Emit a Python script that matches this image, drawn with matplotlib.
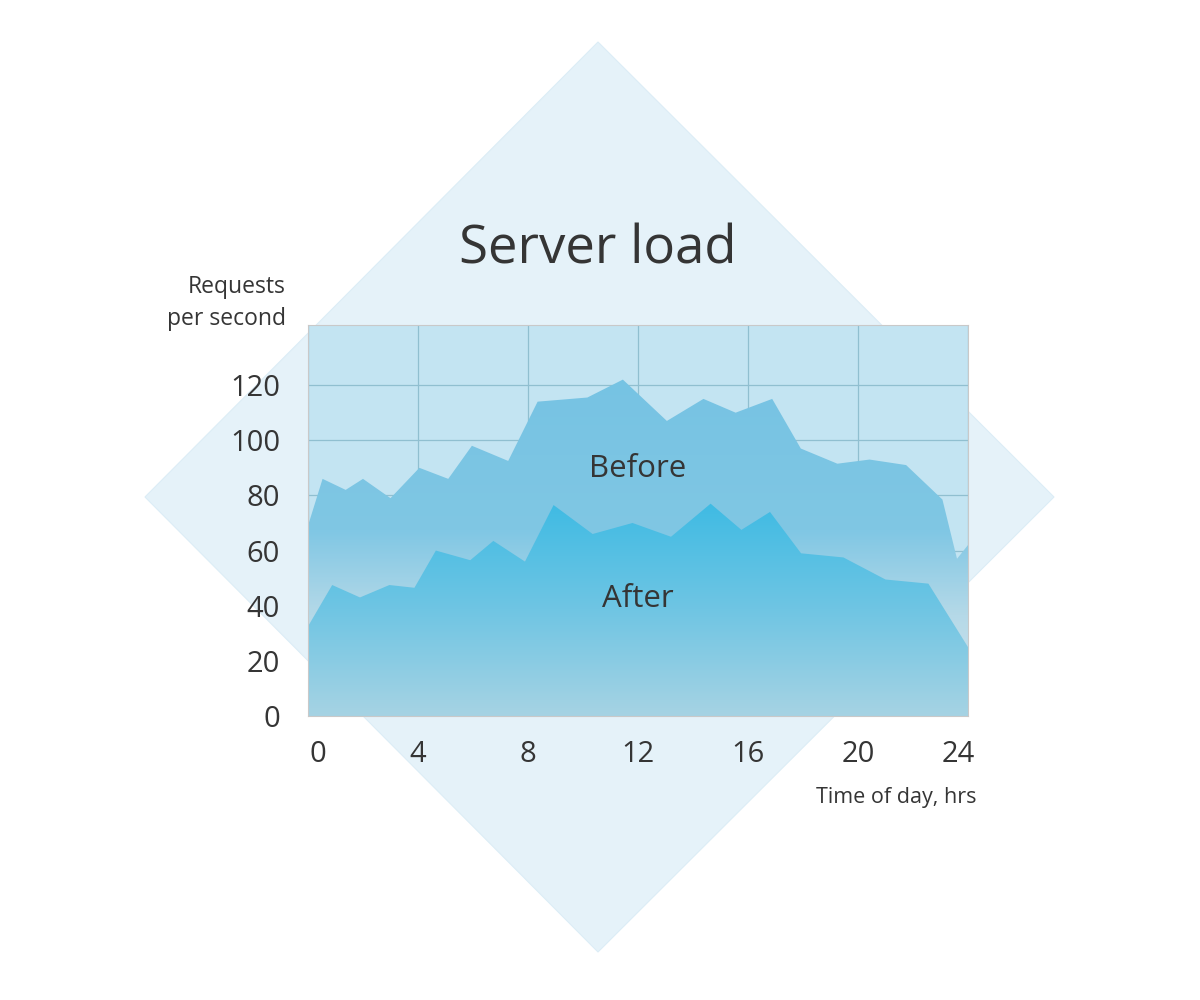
import numpy as np
import matplotlib.pyplot as plt
from matplotlib.colors import LinearSegmentedColormap
from matplotlib.patches import Polygon
import matplotlib.transforms as mtransforms

plt.rcParams['font.family'] = ['Open Sans', 'DejaVu Sans']

# data
before_hr = [0, 0.53, 1.37, 2.0, 3.0, 4.05, 5.1, 5.96, 7.28, 8.35, 10.16, 11.45,
             13.05, 14.38, 15.55, 16.88, 17.92, 19.25, 20.42, 21.75, 23.07, 23.6, 24]
before_rps = [69, 86, 82, 86, 79, 90, 86, 98, 92.5, 114, 115.5, 122,
              107, 115, 110, 115, 97, 91.5, 93, 91, 78.5, 57, 62]

after_hr = [0, 0.88, 1.89, 2.96, 3.87, 4.65, 5.9, 6.74, 7.89, 8.93, 10.35, 11.8,
            13.2, 14.64, 15.76, 16.8, 17.93, 19.47, 21.0, 22.56, 24]
after_rps = [32.5, 47.5, 43, 47.5, 46.5, 60, 56.5, 63.5, 56, 76.5, 66, 70,
             65, 77, 67.5, 74, 59, 57.5, 49.5, 48, 25]

x_ticks = [0, 4, 8, 12, 16, 20, 24]
y_ticks = [0, 20, 40, 60, 80, 100, 120]

text_col = "#353535"

fig = plt.figure(figsize=(12, 10), dpi=100)

# background diamond
bg = fig.add_axes([0, 0, 1, 1])
bg.set_xlim(0, 1200)
bg.set_ylim(1000, 0)
bg.axis("off")
bg.add_patch(Polygon([(598, 42), (1054, 497), (598, 952), (145, 497)],
                     closed=True, facecolor="#E5F2F9", edgecolor="#DCEDF6", lw=0.8))

ax = fig.add_axes([308 / 1200, 1 - 716 / 1000, 660 / 1200, 391 / 1000])
ax.set_facecolor("#C3E4F2")
ax.set_xlim(0, 24)
ax.set_ylim(0, 141.8)


def gradient_fill(x, y, stops):
    poly = ax.fill_between(x, y, 0, color="none", lw=0)
    cmap = LinearSegmentedColormap.from_list("g", stops)
    grad = np.linspace(0, 1, 256).reshape(-1, 1)
    im = ax.imshow(grad, cmap=cmap, aspect="auto", origin="lower",
                   extent=[0, 24, 0, max(y)], zorder=2)
    im.set_clip_path(poly.get_paths()[0], transform=ax.transData)
    return im


gradient_fill(before_hr, before_rps,
              [(0.0, "#D4E6EE"), (0.3, "#B5D9E8"), (0.55, "#80C7E4"), (1.0, "#76C3E3")])
gradient_fill(after_hr, after_rps,
              [(0.0, "#A6D3E3"), (0.5, "#6FC5E4"), (1.0, "#3FBBE3")])

ax.set_xticks(x_ticks)
ax.set_yticks(y_ticks)
ax.grid(True, color="#90BFD0", lw=0.9, zorder=1)
ax.set_axisbelow(True)
ax.tick_params(length=0, labelsize=21, labelcolor=text_col)
ax.tick_params(axis="x", pad=17)
ax.tick_params(axis="y", pad=20)
for s in ax.spines.values():
    s.set_color("#C9C9C9")
    s.set_linewidth(0.8)

labels = ax.get_xticklabels()
labels[0].set_transform(labels[0].get_transform() +
                        mtransforms.ScaledTranslation(0.1, 0, fig.dpi_scale_trans))
labels[-1].set_transform(labels[-1].get_transform() +
                         mtransforms.ScaledTranslation(-0.1, 0, fig.dpi_scale_trans))

ax.text(12, 89.5, "Before", ha="center", va="center", fontsize=22.5, color=text_col, zorder=5)
ax.text(12, 42.5, "After", ha="center", va="center", fontsize=22.5, color=text_col, zorder=5)

fig.text(598 / 1200, 1 - 250 / 1000, "Server load", ha="center", va="center",
         fontsize=38, color=text_col)
fig.text(286 / 1200, 1 - 303 / 1000, "Requests\nper second", ha="right", va="center",
         fontsize=16.5, color=text_col, linespacing=1.45)
fig.text(977 / 1200, 1 - 797 / 1000, "Time of day, hrs", ha="right", va="center",
         fontsize=15.5, color=text_col)

fig.savefig("out.png", dpi=100)
